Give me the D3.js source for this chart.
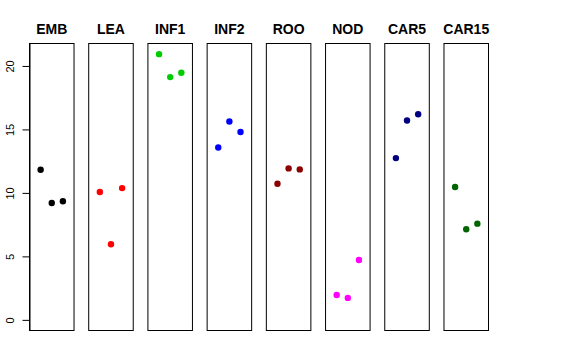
<!DOCTYPE html>
<html><head><meta charset="utf-8">
<script src="https://cdn.jsdelivr.net/npm/d3@7"></script>
<style>body{margin:0;background:#fff}svg{display:block}</style>
</head><body>
<script>
const categories = ["EMB","LEA","INF1","INF2","ROO","NOD","CAR5","CAR15"];
const colors = ["#000000","#FF0000","#00CD00","#0000FF","#8B0000","#FF00FF","#000080","#006400"];
const rep1 = [11.82, 10.07, 20.93, 13.58, 10.72, 1.96, 12.74, 10.46];
const rep2 = [9.21, 5.96, 19.12, 15.62, 11.93, 1.73, 15.70, 7.14];
const rep3 = [9.34, 10.38, 19.46, 14.80, 11.85, 4.71, 16.19, 7.58];
const yTicks = [0,5,10,15,20];

(function () {
const W = 576, H = 360;
const svg = d3.select("body").append("svg").attr("width", W).attr("height", H);

const allVals = rep1.concat(rep2, rep3);
const yMin = 0, yMax = d3.max(allVals);
const ext = (yMax - yMin) * 0.04;
const plotTop = 43.5, plotBottom = 330.5;
const y = d3.scaleLinear().domain([yMin - ext, yMax + ext]).range([plotBottom, plotTop]);

const band = d3.scaleBand().domain(categories).range([29.5, 488.5]).paddingInner(0.248).paddingOuter(0);
const xi = d3.scaleLinear().domain([0, 4]).range([0, band.bandwidth()]);

categories.forEach((c, i) => {
  const g = svg.append("g").attr("transform", `translate(${band(c)},0)`);
  g.append("rect").attr("x", 0).attr("y", plotTop).attr("width", band.bandwidth()).attr("height", plotBottom - plotTop)
    .attr("fill", "none").attr("stroke", "#000").attr("stroke-width", 1);
  g.append("text").attr("x", band.bandwidth() / 2).attr("y", 34)
    .attr("text-anchor", "middle").attr("font-family", "Liberation Sans, Arial, sans-serif")
    .attr("font-weight", "bold").attr("font-size", 14).text(c);
  const vals = [rep1[i], rep2[i], rep3[i]];
  g.selectAll("circle").data(vals).enter().append("circle")
    .attr("cx", (d, j) => xi(j + 1)).attr("cy", d => y(d)).attr("r", 3.2)
    .attr("fill", colors[i]);
});

const axisG = svg.append("g").attr("transform", `translate(${band(categories[0])},0)`);
const ax = d3.axisLeft(y).tickValues(yTicks).tickSizeInner(7).tickSizeOuter(0).tickPadding(0).tickFormat(d3.format("d"));
axisG.call(ax);
axisG.select(".domain").attr("stroke", "#000");
axisG.selectAll(".tick line").attr("stroke", "#000");
axisG.selectAll(".tick text").remove();
axisG.selectAll(".tick").append("text")
  .attr("transform", "translate(-19.5,0) rotate(-90)")
  .attr("text-anchor", "middle").attr("dy", "0.35em")
  .attr("fill", "#000")
  .attr("font-family", "Liberation Sans, Arial, sans-serif").attr("font-size", 11)
  .text(d => d);
})();
</script>
</body></html>
